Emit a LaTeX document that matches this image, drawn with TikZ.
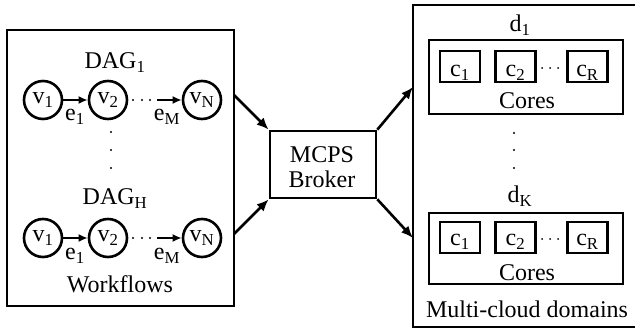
\documentclass[tikz,border=0pt]{standalone}
\usepackage{fontspec}
\setmainfont{Liberation Serif}
\usetikzlibrary{arrows.meta}

\begin{document}
\begin{tikzpicture}[x=1pt, y=-1pt, line width=2.6pt,
    font=\fontsize{24}{25}\selectfont,
    vertex/.style={draw, circle, minimum size=38pt, inner sep=0pt},
    core/.style={draw, minimum width=40pt, minimum height=31pt, inner sep=0pt},
    frame/.style={draw, inner sep=0pt},
    small/.style={-{Latex[length=9pt,width=8pt]}},
    big/.style={-{Latex[length=12pt,width=10pt]}}]
    \useasboundingbox (0,0) rectangle (635,331);

    % workflows
    \node[frame, minimum width=227pt, minimum height=276pt] (wf) at (120.5,168) {};
    \node[anchor=base] (dag1) at (115,69) {DAG\textsubscript{1}};
    \node[anchor=base] (dagH) at (115,205) {DAG\textsubscript{H}};
    \node[anchor=base] (wflabel) at (120,293) {Workflows};

    \node[vertex] (v11) at (43,100) {v\textsubscript{1}};
    \node[vertex] (v12) at (108,100) {v\textsubscript{2}};
    \node[vertex] (v1N) at (202,100) {v\textsubscript{N}};
    \coordinate (s1) at (157,100);
    \draw[small] (v11) -- (v12);
    \draw[small] (s1) -- (v1N);
    \node[anchor=base] (e11) at (75,121) {e\textsubscript{1}};
    \node[anchor=base] (e1M) at (167,121) {e\textsubscript{M}};

    \node[vertex] (v21) at (43,238) {v\textsubscript{1}};
    \node[vertex] (v22) at (108,238) {v\textsubscript{2}};
    \node[vertex] (v2N) at (202,238) {v\textsubscript{N}};
    \coordinate (s2) at (157,238);
    \draw[small] (v21) -- (v22);
    \draw[small] (s2) -- (v2N);
    \node[anchor=base] (e21) at (75,260) {e\textsubscript{1}};
    \node[anchor=base] (e2M) at (167,260) {e\textsubscript{M}};

    \foreach \x in {133,142,150} {
        \fill (\x,100) circle (1.1pt);
        \fill (\x,238) circle (1.1pt);
    }
    \foreach \y in {132,150,168}
        \fill (111,\y) circle (1.1pt);

    % broker
    \node[frame, minimum width=106pt, minimum height=67pt] (broker) at (323,164.5) {};
    \node[anchor=base] (mcps) at (322,163) {MCPS};
    \node[anchor=base] (brk) at (322,188) {Broker};

    % multi-cloud domains
    \node[frame, minimum width=224pt, minimum height=322pt] (mc) at (525,166) {};
    \node[anchor=base] (d1) at (520,32) {d\textsubscript{1}};
    \node[anchor=base] (dK) at (520,203) {d\textsubscript{K}};
    \node[anchor=base] (mclabel) at (527,317) {Multi-cloud domains};

    \node[frame, minimum width=194pt, minimum height=74pt] (cores1) at (526,77) {};
    \node[core] (c11) at (460,66.5) {};
    \node[core] (c12) at (515.5,66.5) {};
    \node[core] (c1R) at (587.5,66.5) {};
    \node[anchor=base] at (460,77) {c\textsubscript{1}};
    \node[anchor=base] at (515.5,77) {c\textsubscript{2}};
    \node[anchor=base] at (587.5,77) {c\textsubscript{R}};
    \node[anchor=base] (cl1) at (527,109) {Cores};

    \node[frame, minimum width=194pt, minimum height=71pt] (cores2) at (526,248.5) {};
    \node[core] (c21) at (460,237.5) {};
    \node[core] (c22) at (515.5,237.5) {};
    \node[core] (c2R) at (587.5,237.5) {};
    \node[anchor=base] at (460,246) {c\textsubscript{1}};
    \node[anchor=base] at (515.5,246) {c\textsubscript{2}};
    \node[anchor=base] at (587.5,246) {c\textsubscript{R}};
    \node[anchor=base] (cl2) at (527,280) {Cores};

    \foreach \x in {542,550,558} {
        \fill (\x,68) circle (1pt);
        \fill (\x,239) circle (1pt);
    }
    \foreach \y in {133,150,168}
        \fill (514,\y) circle (1.1pt);

    % connectors
    \coordinate (w1) at (234,95);
    \coordinate (w2) at (234,234);
    \coordinate (m1) at (413,87);
    \coordinate (m2) at (413,238);
    \draw[big] (w1) -- (broker.north west);
    \draw[big] (w2) -- (broker.south west);
    \draw[big] (broker.north east) -- (m1);
    \draw[big] (broker.south east) -- (m2);
\end{tikzpicture}
\end{document}
